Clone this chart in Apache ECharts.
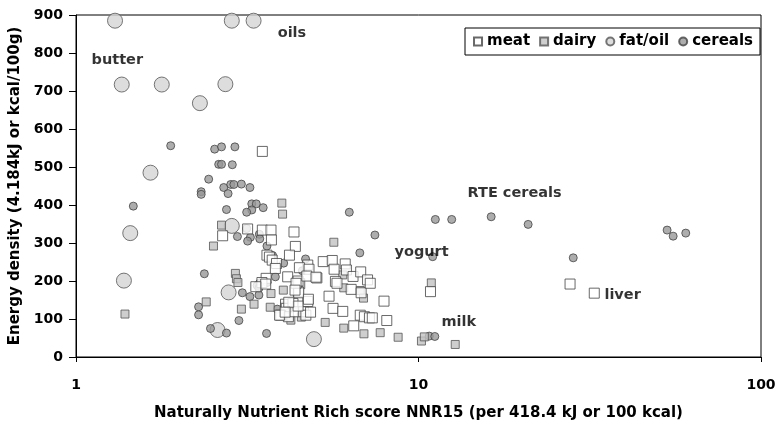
<!DOCTYPE html>
<html>
<head>
<meta charset="utf-8">
<script src="https://cdn.jsdelivr.net/npm/echarts@6/dist/echarts.min.js"></script>
<style>
  html, body { margin: 0; padding: 0; background: #fff; }
  #chart { width: 779px; height: 429px; }
</style>
</head>
<body>
<div id="chart"></div>
<script>
// [NNR15 score, energy density]
const meat = [
  [3.50, 541],
  [2.68, 319], [3.17, 337], [3.50, 334], [3.71, 334], [3.72, 308], [4.33, 329], [4.37, 291],
  [3.61, 268], [3.67, 263], [3.74, 255], [4.20, 268], [3.85, 246], [3.82, 233], [4.15, 211],
  [3.59, 207], [3.49, 196], [3.58, 192], [3.35, 185],
  [4.50, 193], [4.75, 242], [4.46, 172], [4.75, 146], [4.09, 139], [4.11, 128], [3.96, 110],
  [4.17, 106], [4.30, 141], [4.34, 119], [4.61, 119], [4.69, 110],
  [4.49, 235], [4.79, 231], [5.05, 208], [4.45, 200], [4.47, 169], [4.45, 134], [4.84, 118],
  [5.27, 251], [5.60, 254], [5.67, 231], [6.11, 245], [6.16, 229], [6.44, 212], [6.78, 224],
  [5.72, 199], [6.36, 178], [6.80, 169], [7.10, 203], [7.23, 194], [7.93, 147],
  [5.48, 160], [5.63, 128], [6.01, 120], [6.47, 82], [8.08, 96],
  [6.76, 110], [6.95, 106], [7.19, 103], [7.33, 103],
  [4.18, 144], [3.93, 110], [4.08, 118],
  [4.72, 213], [5.02, 210], [4.39, 194], [4.77, 152], [4.36, 176], [5.78, 194],
  [10.84, 172], [27.7, 192], [32.6, 168]
]
const dairy = [
  [3.99, 405], [4.01, 376], [1.39, 113], [2.52, 292], [2.66, 347], [2.40, 145],
  [2.92, 220], [2.94, 206], [2.97, 196], [3.04, 126], [3.31, 139], [3.69, 131], [3.71, 167],
  [4.03, 176], [4.08, 134], [4.24, 97], [4.55, 105], [5.34, 91], [5.66, 302], [6.01, 216],
  [6.05, 182], [6.05, 76], [6.76, 175], [6.91, 155], [6.93, 61], [7.73, 64], [8.72, 52],
  [10.9, 195], [10.2, 42], [10.4, 53], [12.8, 33]
]
const fatOil = [
  [1.30, 885], [2.85, 885], [3.30, 885], [1.36, 717], [1.78, 717], [2.73, 718], [2.30, 668],
  [1.65, 485], [1.44, 326], [1.38, 201], [2.85, 345], [2.79, 170], [2.59, 71], [4.95, 47]
]
const cereals = [
  [1.89, 556], [2.54, 547], [2.66, 553], [2.91, 553], [2.61, 507], [2.66, 507], [2.86, 506],
  [2.44, 468], [2.70, 446], [2.83, 454], [2.89, 454], [3.04, 455], [3.22, 446], [2.32, 435],
  [2.32, 428], [2.78, 430], [1.47, 397], [3.26, 403], [3.36, 403], [3.26, 387], [3.15, 381],
  [3.52, 393], [2.75, 388], [6.28, 381],
  [3.15, 338], [2.96, 317], [3.23, 315], [3.43, 323], [3.44, 311], [3.17, 305], [3.61, 292],
  [3.75, 267], [4.04, 247], [4.58, 227], [4.68, 258], [2.37, 219], [3.82, 211], [3.61, 196],
  [3.44, 195], [3.38, 188], [3.42, 181], [3.06, 169], [3.22, 159], [3.42, 163], [3.87, 126],
  [2.28, 132], [2.28, 111], [2.99, 96], [2.47, 75], [2.75, 63], [3.60, 62], [6.74, 274],
  [7.46, 321],
  [11.2, 362], [12.5, 362], [16.3, 369], [20.9, 349], [28.3, 261], [53.2, 334], [55.4, 318],
  [60.3, 326], [11.0, 264], [10.75, 55], [11.16, 54]
]

// text notes, placed by their left edge in data units
const notes = [
  ['butter', 1.11, 782],
  ['oils', 3.88, 853],
  ['RTE cereals', 13.9, 432],
  ['yogurt', 8.51, 276],
  ['liver', 34.9, 163],
  ['milk', 11.67, 92]
]

const xTicks = [1, 10, 100]
const yTicks = [0, 100, 200, 300, 400, 500, 600, 700, 800, 900]

const FONT = 'DejaVu Sans, sans-serif'

const chart = echarts.init(document.getElementById('chart'))

const option = {
  animation: false,
  textStyle: { fontFamily: FONT },
  grid: {
    left: 76,
    right: 18,
    top: 15,
    bottom: 72,
    outerBoundsMode: 'none',
    show: true,
    borderColor: '#000',
    borderWidth: 1
  },
  legend: {
    data: ['meat', 'dairy', 'fat/oil', 'cereals'],
    right: 19,
    top: 28,
    padding: [6, 7, 6, 8],
    itemGap: 9,
    itemWidth: 8,
    itemHeight: 8,
    borderColor: '#000',
    borderWidth: 1,
    textStyle: { fontSize: 15, fontWeight: 'bold', color: '#000', fontFamily: FONT }
  },
  xAxis: {
    type: 'log',
    logBase: 10,
    min: xTicks[0],
    max: xTicks[xTicks.length - 1],
    name: 'Naturally Nutrient Rich score NNR15 (per 418.4 kJ or 100 kcal)',
    nameLocation: 'middle',
    nameGap: 49,
    nameTextStyle: { fontSize: 15, fontWeight: 'bold', color: '#000', fontFamily: FONT },
    axisLine: { lineStyle: { color: '#000', width: 1 } },
    axisTick: { show: true, length: 5, lineStyle: { color: '#000' } },
    minorTick: { show: false },
    splitLine: { show: false },
    axisLabel: {
      margin: 21,
      fontSize: 14,
      fontWeight: 'bold',
      color: '#000',
      fontFamily: FONT,
      formatter: v => (xTicks.includes(Math.round(v)) ? String(Math.round(v)) : '')
    }
  },
  yAxis: {
    type: 'value',
    min: yTicks[0],
    max: yTicks[yTicks.length - 1],
    interval: 100,
    name: 'Energy density (4.184kJ or kcal/100g)',
    nameLocation: 'middle',
    nameGap: 51,
    nameTextStyle: { fontSize: 15, fontWeight: 'bold', color: '#000', fontFamily: FONT },
    axisLine: { show: true, lineStyle: { color: '#000', width: 1 } },
    axisTick: { show: true, length: 7, lineStyle: { color: '#000' } },
    splitLine: { show: false },
    axisLabel: { margin: 13, fontSize: 14, fontWeight: 'bold', color: '#000', fontFamily: FONT }
  },
  series: [
    {
      name: 'fat/oil',
      type: 'scatter',
      symbol: 'circle',
      symbolSize: 15,
      data: fatOil,
      itemStyle: { color: '#d4d4d4', borderColor: '#555', borderWidth: 1 }
    },
    {
      name: 'cereals',
      type: 'scatter',
      symbol: 'circle',
      symbolSize: 8,
      data: cereals,
      itemStyle: { color: '#999999', borderColor: '#444', borderWidth: 1 }
    },
    {
      name: 'dairy',
      type: 'scatter',
      symbol: 'rect',
      symbolSize: 8,
      data: dairy,
      itemStyle: { color: '#c2c2c2', borderColor: '#555', borderWidth: 1 }
    },
    {
      name: 'meat',
      type: 'scatter',
      symbol: 'rect',
      symbolSize: 10,
      data: meat,
      itemStyle: { color: '#ffffff', borderColor: '#444', borderWidth: 1 }
    },
    {
      name: 'notes',
      type: 'scatter',
      symbolSize: 0,
      silent: true,
      data: notes.map(n => ({ name: n[0], value: [n[1], n[2]] })),
      label: {
        show: true,
        position: 'right',
        distance: 0,
        formatter: '{b}',
        fontSize: 14.5,
        fontWeight: 'bold',
        color: '#000',
        fontFamily: FONT
      }
    }
  ]
}

chart.setOption(option)
window.addEventListener('resize', () => chart.resize())
</script>
</body>
</html>
